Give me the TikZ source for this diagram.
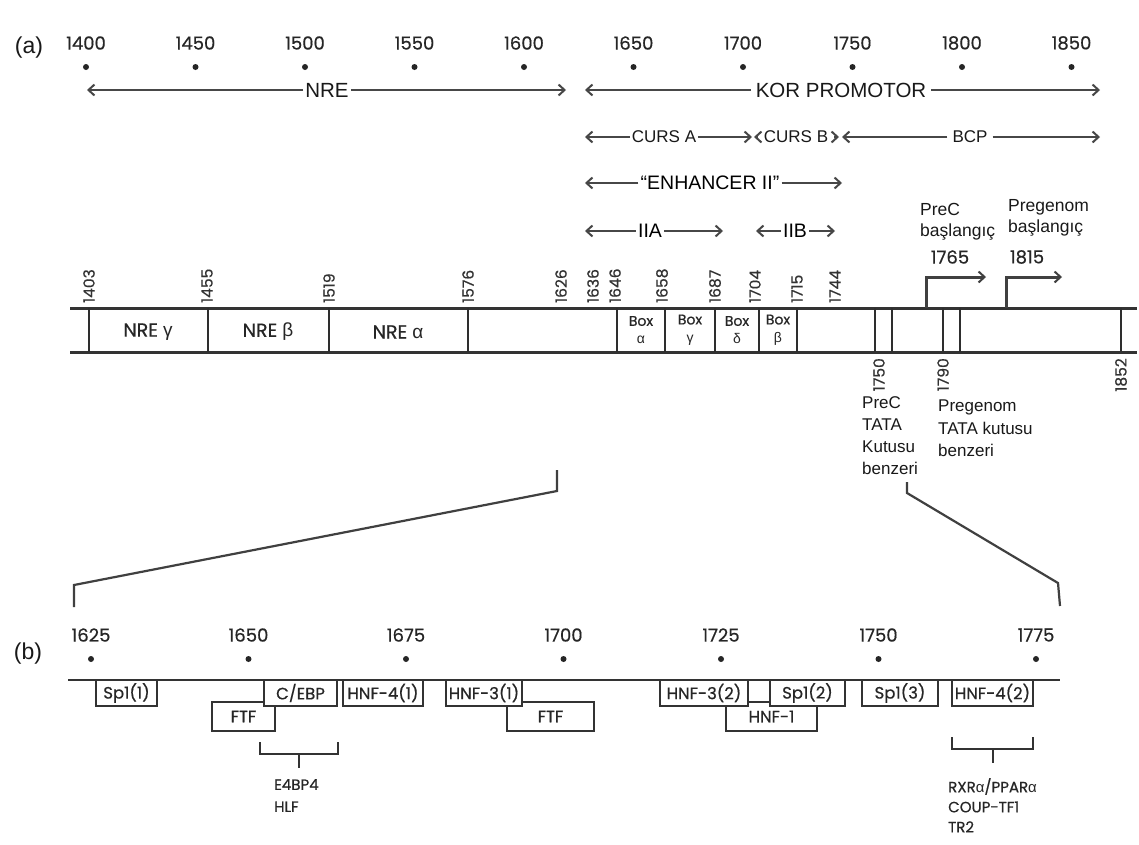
\documentclass[tikz,border=0pt]{standalone}
\usepackage{fontspec}
\setmainfont{Liberation Sans}
\newfontfamily\geo{Poppins}[FakeBold=0.5]
\newfontfamily\lib{Liberation Sans}
\usetikzlibrary{arrows.meta}
\tikzset{
  tick/.style={font=\geo\fontsize{18}{18}\selectfont, inner sep=0pt, text=black!85},
  rotnum/.style={font=\geo\fontsize{15.5}{15.5}\selectfont, rotate=90, inner sep=0pt, text=black!80},
  dotn/.style={circle, fill=black!85, inner sep=0pt, minimum size=6pt},
  arr/.style={-{Straight Barb[length=6pt,width=11pt,line width=2pt]}, line width=2.6pt, draw=black!72},
  bigl/.style={font=\fontsize{20.5}{20.5}\selectfont, inner sep=2pt, text=black!90},
  midl/.style={font=\fontsize{17}{17}\selectfont, inner sep=1.5pt, text=black!90},
  barline/.style={line width=3pt, draw=black!80},
  sepline/.style={line width=2.5pt, draw=black!82},
  boxt/.style={font=\geo\fontsize{19}{19}\selectfont, text=black!85},
  boxs/.style={font=\geo\fontsize{14}{18}\selectfont, text=black!85, align=center, inner sep=0pt},
  note/.style={font=\fontsize{17.5}{21}\selectfont, align=left, inner sep=0pt, text=black!90},
  zoomline/.style={line width=2.2pt, draw=black!75},
  bentarr/.style={-{Straight Barb[length=6pt,width=11pt,line width=2pt]}, line width=3pt, draw=black!75},
  fbox/.style={draw=black!80, line width=2.2pt, fill=white, inner sep=0pt, font=\geo\fontsize{16.5}{16.5}\selectfont, text=black!85},
  brk/.style={line width=2.4pt, draw=black!80},
  plabel/.style={font=\fontsize{23}{23}\selectfont, inner sep=0pt, text=black!90},
  tflist/.style={font=\geo\fontsize{15}{22}\selectfont, align=left, inner sep=0pt, text=black!85},
}
\begin{document}
\begin{tikzpicture}[x=1pt,y=-1pt]
\useasboundingbox (0,0) rectangle (1139,844);
\fill[white] (0,0) rectangle (1139,844);

% ---------------- (a) ----------------
\node[plabel] (pa) at (29,48) {(a)};
\foreach \n [count=\i] in {1400,1450,1500,1550,1600,1650,1700,1750,1800,1850}{
  \node[tick] (ta\i) at ({86+(\n-1400)*2.19},43) {\n};
  \node[dotn] (da\i) at ({86+(\n-1400)*2.19},67) {};
}

% NRE / KOR PROMOTOR
\node[bigl] (nre) at (327,90) {NRE};
\coordinate (nreL) at (87,90); \coordinate (nreR) at (566,90);
\draw[arr] (nre.west) -- (nreL); \draw[arr] (nre.east) -- (nreR);
\node[bigl, inner sep=5pt] (kor) at (841,90) {KOR PROMOTOR};
\coordinate (korL) at (585,90); \coordinate (korR) at (1100,90);
\draw[arr] (kor.west) -- (korL); \draw[arr] (kor.east) -- (korR);

% CURS A / CURS B / BCP
\node[midl] (ca) at (664,137) {CURS A};
\coordinate (caL) at (585,137); \coordinate (caR) at (752,137);
\draw[arr] (ca.west) -- (caL); \draw[arr] (ca.east) -- (caR);
\node[midl, inner sep=6pt] (cb) at (796,137) {CURS B};
\coordinate (cbL) at (754,137); \coordinate (cbR) at (839,137);
\draw[arr] (cb.west) -- (cbL); \draw[arr] (cb.east) -- (cbR);
\node[midl, inner sep=5pt] (bcp) at (970,137) {BCP};
\coordinate (bcpL) at (842,137); \coordinate (bcpR) at (1100,137);
\draw[arr] (bcp.west) -- (bcpL); \draw[arr] (bcp.east) -- (bcpR);

% ENHANCER II
\node[font=\fontsize{19.5}{19.5}\selectfont, inner sep=2pt] (enh) at (710,183) {“ENHANCER II”};
\coordinate (enhL) at (585,183); \coordinate (enhR) at (842,183);
\draw[arr] (enh.west) -- (enhL); \draw[arr] (enh.east) -- (enhR);

% IIA / IIB
\node[font=\fontsize{19.5}{19.5}\selectfont, inner sep=2pt] (iia) at (650,231) {IIA};
\coordinate (iiaL) at (585,231); \coordinate (iiaR) at (723,231);
\draw[arr] (iia.west) -- (iiaL); \draw[arr] (iia.east) -- (iiaR);
\node[font=\fontsize{19.5}{19.5}\selectfont, inner sep=2pt] (iib) at (795,231) {IIB};
\coordinate (iibL) at (756,231); \coordinate (iibR) at (835,231);
\draw[arr] (iib.west) -- (iibL); \draw[arr] (iib.east) -- (iibR);

% start sites
\node[note, anchor=north west] (precs) at (920,203) {PreC\\başlangıç};
\node[tick] (n1765) at (950,257) {1765};
\node[note, anchor=north west] (pgs) at (1008,199) {Pregenom\\başlangıç};
\node[tick] (n1815) at (1027,257) {1815};

% main bar
\coordinate (barTL) at (70,308); \coordinate (barTR) at (1137,308);
\coordinate (barBL) at (70,352); \coordinate (barBR) at (1137,352);
\draw[barline] (barTL) -- (barTR);
\draw[barline] (barBL) -- (barBR);
\foreach \x in {89,208,329,468,617,665,715,759,797,875,892,943,960,1121}{
  \draw[sepline] (\x,308) -- (\x,352);
}
% bent arrows
\coordinate (pcA) at (926,308); \coordinate (pcB) at (926,277); \coordinate (pcC) at (986,277);
\draw[bentarr] (pcA) -- (pcB) -- (pcC);
\coordinate (pgA) at (1006,308); \coordinate (pgB) at (1006,277); \coordinate (pgC) at (1062,277);
\draw[bentarr] (pgA) -- (pgB) -- (pgC);

% box labels
\node[boxt] (nreg) at (148,332) {NRE {\lib γ}};
\node[boxt] (nreb) at (268,332) {NRE {\lib β}};
\node[boxt] (nrea) at (398,332) {NRE {\lib α}};
\node[boxs] (bxa) at (641,330) {Box\\{\lib α}};
\node[boxs] (bxg) at (690,330) {Box\\{\lib γ}};
\node[boxs] (bxd) at (737,330) {Box\\{\lib δ}};
\node[boxs] (bxb) at (778,330) {Box\\{\lib β}};

% position numbers above the bar
\foreach \x/\n in {89/1403,207/1455,329/1519,468/1576,561/1626,593/1636,615/1646,662/1658,715/1687,755/1704,797/1715,835/1744}{
  \node[rotnum, anchor=west] (p\n) at (\x,303) {\n};
}
% below the bar
\node[rotnum, anchor=east] (p1750) at (879,358) {1750};
\node[rotnum, anchor=east] (p1790) at (943,358) {1790};
\node[rotnum, anchor=east] (p1852) at (1121,358) {1852};

\node[note, anchor=north west, font=\fontsize{17}{22.3}\selectfont] (prect) at (862,396) {PreC\\TATA\\Kutusu\\benzeri};
\node[note, anchor=north west, font=\fontsize{17}{22.3}\selectfont] (pgt) at (938,400) {Pregenom\\TATA kutusu\\benzeri};

% zoom connectors
\coordinate (zl1) at (557,470); \coordinate (zl2) at (557,491);
\coordinate (zl3) at (74,585); \coordinate (zl4) at (74,607);
\draw[zoomline] (zl1) -- (zl2) -- (zl3) -- (zl4);
\coordinate (zr1) at (907,482); \coordinate (zr2) at (907,493);
\coordinate (zr3) at (1058,583); \coordinate (zr4) at (1060,606);
\draw[zoomline] (zr1) -- (zr2) -- (zr3) -- (zr4);

% ---------------- (b) ----------------
\node[plabel] (pb) at (28,654) {(b)};
\foreach \n [count=\i] in {1625,1650,1675,1700,1725,1750,1775}{
  \node[tick] (tb\i) at ({91+(\n-1625)*6.3},635) {\n};
  \node[dotn] (db\i) at ({91+(\n-1625)*6.3},659) {};
}
\coordinate (lnL) at (68,680); \coordinate (lnR) at (1060,680);
\draw[barline, line width=2.6pt] (lnL) -- (lnR);

% lower row boxes
\node[fbox, minimum width=63pt, minimum height=29pt] (ftf1) at (243.5,716.5) {FTF};
\node[fbox, minimum width=87pt, minimum height=29pt] (ftf2) at (550.5,716.5) {FTF};
\node[fbox, minimum width=91pt, minimum height=29pt] (hnf1) at (771.5,716.5) {HNF-1};
% upper row boxes
\node[fbox, minimum width=61pt, minimum height=26pt] (sp11) at (126.5,693) {Sp1(1)};
\node[fbox, minimum width=73pt, minimum height=26pt] (cebp) at (300.5,693) {C/EBP};
\node[fbox, minimum width=80pt, minimum height=26pt] (hnf41) at (383,693) {HNF-4(1)};
\node[fbox, minimum width=76pt, minimum height=26pt] (hnf31) at (484,693) {HNF-3(1)};
\node[fbox, minimum width=88pt, minimum height=26pt] (hnf32) at (704,693) {HNF-3(2)};
\node[fbox, minimum width=75pt, minimum height=26pt] (sp12) at (807.5,693) {Sp1(2)};
\node[fbox, minimum width=76pt, minimum height=26pt] (sp13) at (900,693) {Sp1(3)};
\node[fbox, minimum width=81pt, minimum height=26pt] (hnf42) at (992.5,693) {HNF-4(2)};

% brackets
\coordinate (b1a) at (260,742); \coordinate (b1b) at (260,754);
\coordinate (b1c) at (338,754); \coordinate (b1d) at (338,742);
\draw[brk] (b1a) -- (b1b) -- (b1c) -- (b1d);
\coordinate (b1s) at (299,754); \coordinate (b1t) at (299,768);
\draw[brk] (b1s) -- (b1t);
\node[tflist, anchor=north west] (e4) at (274,779) {E4BP4\\HLF};

\coordinate (b2a) at (952,737); \coordinate (b2b) at (952,749);
\coordinate (b2c) at (1033,749); \coordinate (b2d) at (1033,737);
\draw[brk] (b2a) -- (b2b) -- (b2c) -- (b2d);
\coordinate (b2s) at (993,749); \coordinate (b2t) at (993,763);
\draw[brk] (b2s) -- (b2t);
\node[tflist, anchor=north west, font=\geo\fontsize{15}{20}\selectfont] (rxr) at (948,778) {RXR{\lib α}/PPAR{\lib α}\\COUP-TF1\\TR2};
\end{tikzpicture}
\end{document}
